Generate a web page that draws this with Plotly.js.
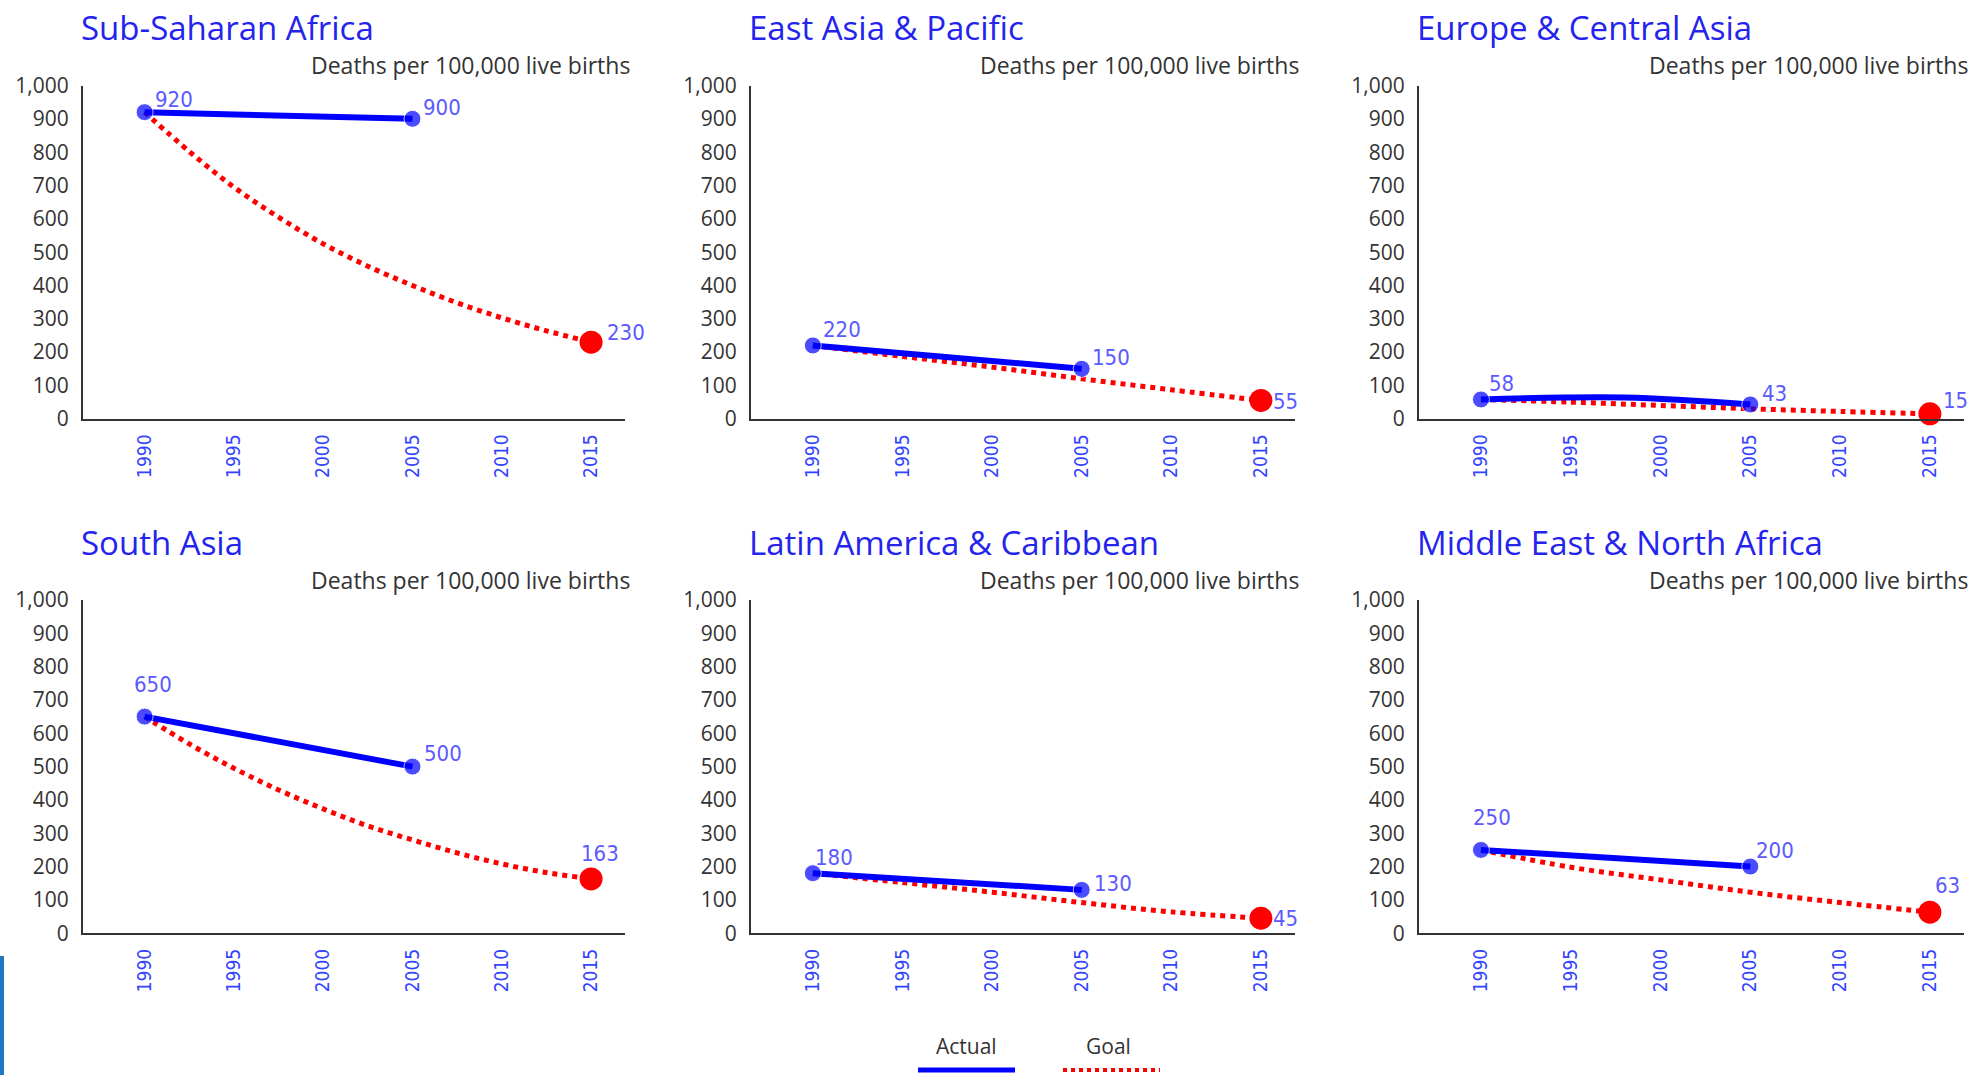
<!DOCTYPE html>
<html>
<head>
<meta charset="utf-8">
<script src="https://cdn.plot.ly/plotly-3.0.1.min.js"></script>
<style>html,body{margin:0;padding:0;background:#fff;}#chart{width:1972px;height:1075px;}</style>
</head>
<body>
<div id="chart"></div>
<script>
// ---------------- DATA ----------------
const regionNames = ["Sub-Saharan Africa", "East Asia & Pacific", "Europe & Central Asia",
                     "South Asia", "Latin America & Caribbean", "Middle East & North Africa"];
const unitLabel = "Deaths per 100,000 live births";
const yearTicks = [1990, 1995, 2000, 2005, 2010, 2015];
const yTicks = [0, 100, 200, 300, 400, 500, 600, 700, 800, 900, 1000];

const actualYears = [1990, 2005];
const actualYearsEurope = [1990, 1998, 2005];
const actualSubSaharan = [920, 900];
const actualEastAsia = [220, 150];
const actualEurope = [58, 64, 43];
const actualSouthAsia = [650, 500];
const actualLatin = [180, 130];
const actualMENA = [250, 200];

const goalYearsFine = [1990, 1992.5, 1995, 1997.5, 2000, 2002.5, 2005, 2007.5, 2010, 2012.5, 2015];
const goalYears = [1990, 1995, 2000, 2005, 2010, 2015];
const goalSubSaharan = [920, 802, 695, 605, 525, 458, 400, 348, 303, 264, 230];
const goalSouthAsia = [650, 568, 495, 430, 373, 322, 280, 241, 208, 182, 163];
const goalEastAsia = [220, 187, 155, 120, 87, 55];
const goalEurope = [58, 50, 40, 30, 22, 15];
const goalLatin = [180, 152, 123, 92, 64, 45];
const goalMENA = [250, 198, 160, 123, 92, 63];

const legendNames = ["Actual", "Goal"];

// ---------------- STYLE / LAYOUT ----------------
const W = 1972, H = 1075;
const colLeft = [83, 751, 1419], colRight = [625, 1295, 1964];
const rowTop = [85.5, 600], rowBottom = [418.8, 933.2];
const titleY = [28, 542], unitY = [65, 580], unitRight = [632, 1301, 1970];
const xRange = [1986.55, 2016.9];
// label offsets (px) for [first actual, last actual, goal end]
const labelOffsets = [
  [[29, 13], [30, 11], [35, 10]],
  [[29, 16], [29, 11], [25, -1]],
  [[21, 16], [24, 11], [26, 13]],
  [[8, 32], [31, 13], [9, 25]],
  [[21, 16], [31, 6], [25, 0]],
  [[11, 32], [25, 16], [18, 27]]
];
const BLUE = '#0000ff', RED = '#ff0000', LABEL = '#5a5aff', TICKBLUE = '#3344ff', TITLE = '#2424ee', GRAY = '#333333';

const panels = [
  {ax: actualYears, ay: actualSubSaharan, gx: goalYearsFine, gy: goalSubSaharan},
  {ax: actualYears, ay: actualEastAsia, gx: goalYears, gy: goalEastAsia},
  {ax: actualYearsEurope, ay: actualEurope, gx: goalYears, gy: goalEurope},
  {ax: actualYears, ay: actualSouthAsia, gx: goalYearsFine, gy: goalSouthAsia},
  {ax: actualYears, ay: actualLatin, gx: goalYears, gy: goalLatin},
  {ax: actualYears, ay: actualMENA, gx: goalYears, gy: goalMENA}
];

const traces = [];
const layout = {
  width: W, height: H,
  margin: {l: 0, r: 0, t: 0, b: 0},
  paper_bgcolor: '#fff', plot_bgcolor: 'rgba(0,0,0,0)',
  showlegend: false, hovermode: false,
  annotations: [], shapes: []
};

panels.forEach((p, i) => {
  const col = i % 3, row = Math.floor(i / 3);
  const sfx = i === 0 ? '' : String(i + 1);
  const xa = 'x' + sfx, ya = 'y' + sfx;
  layout['xaxis' + sfx] = {
    domain: [colLeft[col] / W, colRight[col] / W],
    range: xRange, anchor: ya,
    tickmode: 'array', tickvals: yearTicks, ticktext: yearTicks.map(String),
    tickangle: -90, ticks: '', ticklabelstandoff: 6,
    showgrid: false, zeroline: false,
    showline: true, linecolor: GRAY, linewidth: 2,
    tickfont: {family: 'Liberation Sans Narrow, DejaVu Sans Condensed, sans-serif', size: 19, color: TICKBLUE},
    fixedrange: true
  };
  layout['yaxis' + sfx] = {
    domain: [1 - rowBottom[row] / H, 1 - rowTop[row] / H],
    range: [0, 1000], anchor: xa,
    tickmode: 'array', tickvals: yTicks, ticktext: yTicks.map(v => v.toLocaleString('en-US')),
    ticks: '', ticklabelstandoff: 8,
    showgrid: false, zeroline: false,
    showline: true, linecolor: GRAY, linewidth: 2,
    tickfont: {family: 'Open Sans, sans-serif', size: 21, color: GRAY},
    fixedrange: true
  };

  // goal line
  traces.push({
    type: 'scatter', mode: 'lines', x: p.gx, y: p.gy, xaxis: xa, yaxis: ya,
    line: {color: RED, width: 5, dash: 'dot', shape: 'spline', smoothing: 1},
    cliponaxis: false
  });
  // goal endpoint
  traces.push({
    type: 'scatter', mode: 'markers', x: [p.gx[p.gx.length - 1]], y: [p.gy[p.gy.length - 1]],
    xaxis: xa, yaxis: ya, marker: {color: RED, size: 23}, cliponaxis: false
  });
  // actual
  traces.push({
    type: 'scatter', mode: 'lines+markers', x: p.ax, y: p.ay, xaxis: xa, yaxis: ya,
    line: {color: BLUE, width: 6, shape: p.ax.length > 2 ? 'spline' : 'linear'},
    marker: {color: BLUE, size: p.ax.map((v, k) => (k === 0 || k === p.ax.length - 1) ? 17 : 0)},
    cliponaxis: false
  });

  // value labels
  const pts = [
    [p.ax[0], p.ay[0]],
    [p.ax[p.ax.length - 1], p.ay[p.ay.length - 1]],
    [p.gx[p.gx.length - 1], p.gy[p.gy.length - 1]]
  ];
  pts.forEach((pt, k) => {
    layout.annotations.push({
      xref: xa, yref: ya, x: pt[0], y: pt[1], text: String(pt[1]),
      showarrow: false, xanchor: 'center', yanchor: 'middle',
      xshift: labelOffsets[i][k][0], yshift: labelOffsets[i][k][1],
      font: {family: 'Liberation Sans Narrow, DejaVu Sans Condensed, sans-serif', size: 22, color: LABEL}
    });
  });

  // panel title
  layout.annotations.push({
    xref: 'paper', yref: 'paper', x: (colLeft[col] - 4) / W, y: 1 - titleY[row] / H,
    xanchor: 'left', yanchor: 'middle', showarrow: false, text: regionNames[i],
    font: {family: 'Open Sans, sans-serif', size: 33, color: TITLE}
  });
  // unit label
  layout.annotations.push({
    xref: 'paper', yref: 'paper', x: unitRight[col] / W, y: 1 - unitY[row] / H,
    xanchor: 'right', yanchor: 'middle', showarrow: false, text: unitLabel,
    font: {family: 'Open Sans, sans-serif', size: 23, color: GRAY}
  });
});

// legend (custom)
layout.annotations.push({
  xref: 'paper', yref: 'paper', x: 966 / W, y: 1 - 1046 / H, xanchor: 'center', yanchor: 'middle',
  showarrow: false, text: legendNames[0], font: {family: 'Open Sans, sans-serif', size: 21, color: GRAY}
});
layout.annotations.push({
  xref: 'paper', yref: 'paper', x: 1108 / W, y: 1 - 1046 / H, xanchor: 'center', yanchor: 'middle',
  showarrow: false, text: legendNames[1], font: {family: 'Open Sans, sans-serif', size: 21, color: GRAY}
});
layout.shapes.push({
  type: 'line', xref: 'paper', yref: 'paper', x0: 918 / W, x1: 1015 / W, y0: 1 - 1070 / H, y1: 1 - 1070 / H,
  line: {color: BLUE, width: 5}
});
layout.shapes.push({
  type: 'line', xref: 'paper', yref: 'paper', x0: 1063 / W, x1: 1160 / W, y0: 1 - 1070 / H, y1: 1 - 1070 / H,
  line: {color: RED, width: 4, dash: 'dot'}
});
// left edge accent bar
layout.shapes.push({
  type: 'rect', xref: 'paper', yref: 'paper', x0: 0, x1: 4 / W, y0: 0, y1: 1 - 956 / H,
  fillcolor: '#1f78c1', line: {width: 0}
});

Plotly.newPlot('chart', traces, layout, {displayModeBar: false, staticPlot: true});
</script>
</body>
</html>
